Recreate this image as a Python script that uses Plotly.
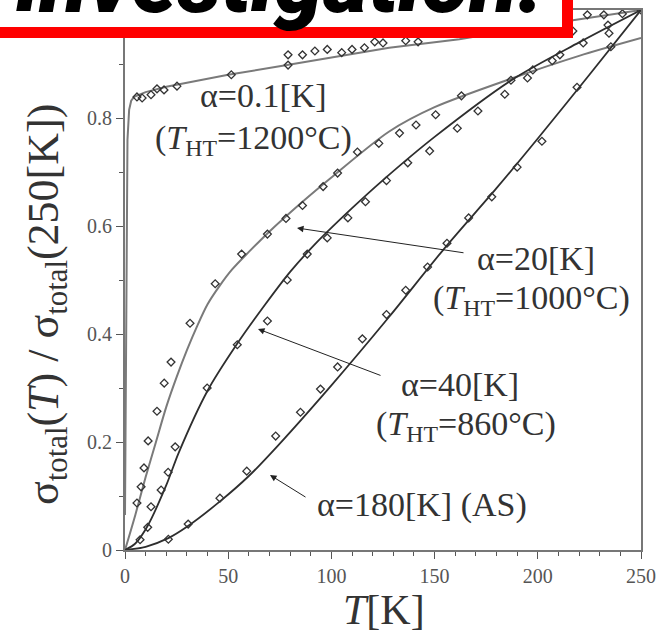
import plotly.graph_objects as go

# ---------------- data ----------------
fit01_T = [0, 0.3, 0.7, 1.2, 2.0, 3.0, 4.4, 10, 20, 50, 80, 128, 162, 217, 250]
fit01_y = [0.065, 0.30, 0.62, 0.76, 0.815, 0.832, 0.839, 0.848, 0.858, 0.880, 0.899, 0.930, 0.946, 0.981, 1.0]

fit20_T = [0, 5, 10, 15, 20, 25, 30, 35, 40, 46, 52, 60, 70, 86, 100, 128, 150, 188, 220, 250]
fit20_y = [0, 0.065, 0.135, 0.20, 0.265, 0.32, 0.37, 0.415, 0.455, 0.49, 0.52, 0.552, 0.59, 0.645, 0.69, 0.775, 0.82, 0.874, 0.915, 0.948]

fit40_T = [0, 5, 11, 20, 26, 40, 54, 68, 80, 93, 110, 125, 150, 188, 220, 250]
fit40_y = [0, 0.012, 0.045, 0.12, 0.18, 0.295, 0.38, 0.455, 0.515, 0.57, 0.633, 0.685, 0.765, 0.872, 0.94, 1.0]

fit180_T = [0, 10, 21, 30, 46, 60, 74, 100, 128, 154, 180, 200, 225, 250]
fit180_y = [0, 0.006, 0.022, 0.043, 0.09, 0.137, 0.193, 0.305, 0.432, 0.555, 0.67, 0.762, 0.88, 1.0]

pts01_T = [5.8, 8.3, 12.6, 15.5, 18.9, 25.2, 51.5, 79, 79, 86, 92, 98, 105, 110, 116, 121, 125, 136, 142, 224, 232, 241, 250]
pts01_y = [0.839, 0.837, 0.843, 0.854, 0.852, 0.859, 0.880, 0.898, 0.917, 0.917, 0.924, 0.927, 0.921, 0.927, 0.930, 0.941, 0.939, 0.943, 0.941, 0.991, 0.991, 0.993, 1.0]

pts20_T = [5.8, 7.8, 9.2, 11.2, 15.5, 19, 22.3, 31.5, 43.7, 56.5, 69, 78, 86, 96, 103, 112.6, 123, 133, 141, 150.5, 163, 187, 197.6, 210.7, 217, 234]
pts20_y = [0.087, 0.117, 0.152, 0.202, 0.257, 0.309, 0.348, 0.420, 0.493, 0.548, 0.585, 0.614, 0.638, 0.673, 0.698, 0.737, 0.753, 0.772, 0.787, 0.806, 0.841, 0.870, 0.889, 0.917, 0.961, 0.972]

pts40_T = [7.3, 11, 12.6, 17.5, 20.9, 24.3, 39.8, 54.4, 69, 78.6, 88.3, 98, 108, 116.5, 126.7, 137, 147.6, 161, 171, 184, 195, 207, 222, 234.5]
pts40_y = [0.019, 0.042, 0.080, 0.111, 0.144, 0.191, 0.300, 0.380, 0.424, 0.500, 0.548, 0.578, 0.615, 0.645, 0.684, 0.717, 0.739, 0.781, 0.813, 0.844, 0.874, 0.906, 0.939, 0.957]

pts180_T = [21, 30.6, 46, 59, 73, 85, 94.7, 103, 115, 126.7, 136, 146.6, 156, 166.5, 177.7, 190, 202, 219, 235.4]
pts180_y = [0.020, 0.048, 0.096, 0.146, 0.211, 0.255, 0.298, 0.339, 0.391, 0.436, 0.481, 0.524, 0.568, 0.615, 0.654, 0.709, 0.757, 0.857, 0.932]

x_ticks = [0, 50, 100, 150, 200, 250]
y_ticks = [0, 0.2, 0.4, 0.6, 0.8]
y_ticktext = ["0", "0.2", "0.4", "0.6", "0.8"]

# ---------------- layout geometry (screen pixels) ----------------
W, H = 666, 635
ML, MR, MT, MB = 125, 25, 10, 85
PW, PH = W - ML - MR, H - MT - MB
XR, YR = [0, 250], [0, 1.0]

def px2x(px):
    return XR[0] + (px - ML) / PW * (XR[1] - XR[0])

def py2y(py):
    return YR[0] + (H - MB - py) / PH * (YR[1] - YR[0])

def px2p(px):
    return (px - ML) / PW

def py2p(py):
    return (H - MB - py) / PH

SERIF = "Liberation Serif"
LIGHT = "#7a7a7a"
DARK = "#2e2e2e"

fig = go.Figure()

def add_fit(T, y, color, width, spline=True):
    line = dict(color=color, width=width)
    if spline:
        line.update(shape="spline", smoothing=0.8)
    fig.add_trace(go.Scatter(x=T, y=y, mode="lines", line=line, hoverinfo="skip", showlegend=False))

def add_pts(T, y):
    fig.add_trace(go.Scatter(x=T, y=y, mode="markers",
                             marker=dict(symbol="diamond-open", size=6, color="#333333", line=dict(width=1.3)),
                             showlegend=False))

add_fit(fit01_T, fit01_y, LIGHT, 2, spline=False)
add_fit(fit20_T, fit20_y, LIGHT, 2)
add_fit(fit40_T, fit40_y, DARK, 1.8)
add_fit(fit180_T, fit180_y, DARK, 1.8)
add_pts(pts01_T, pts01_y)
add_pts(pts20_T, pts20_y)
add_pts(pts40_T, pts40_y)
add_pts(pts180_T, pts180_y)

ann = []

def label(text, cx, cy, size=34):
    ann.append(dict(text=text, x=px2x(cx), y=py2y(cy), xref="x", yref="y", showarrow=False,
                    xanchor="center", yanchor="middle", font=dict(family=SERIF, size=size, color="#333333")))

def arrow(tail, tip):
    ann.append(dict(text="", x=px2x(tip[0]), y=py2y(tip[1]), ax=px2x(tail[0]), ay=py2y(tail[1]),
                    xref="x", yref="y", axref="x", ayref="y", showarrow=True,
                    arrowhead=2, arrowsize=1.3, arrowwidth=1, arrowcolor="#222222"))

label("α=0.1[K]", 263, 95)
label("(<i>T</i><sub>HT</sub>=1200°C)", 253, 140)
label("α=20[K]", 536, 258)
label("(<i>T</i><sub>HT</sub>=1000°C)", 531, 300)
label("α=40[K]", 460, 384)
label("(<i>T</i><sub>HT</sub>=860°C)", 466, 426)
label("α=180[K] (AS)", 422, 505)

arrow((465, 253), (297, 228))
arrow((382, 376), (258, 329))
arrow((307, 498), (270, 475))

ann.append(dict(text="<i>T</i>[K]", x=px2p(384), y=py2p(610), xref="paper", yref="paper", showarrow=False,
                xanchor="center", yanchor="middle", font=dict(family=SERIF, size=42, color="#333333")))
ann.append(dict(text="σ<sub>total</sub>(<i>T</i>) / σ<sub>total</sub>(250[K])", x=px2p(46), y=py2p(305),
                xref="paper", yref="paper", showarrow=False, textangle=-90,
                xanchor="center", yanchor="middle", font=dict(family=SERIF, size=44, color="#333333")))

ann.append(dict(text="investigation.", x=px2p(280), y=py2p(35), xref="paper", yref="paper",
                showarrow=False, xanchor="center", yanchor="bottom",
                font=dict(family="Roboto", size=88, color="#000000", weight=900, style="italic")))

shapes = [
    dict(type="rect", xref="paper", yref="paper", x0=px2p(-5), x1=px2p(573), y0=py2p(38), y1=py2p(-10),
         fillcolor="#ff0000", line=dict(width=0), layer="above"),
    dict(type="rect", xref="paper", yref="paper", x0=px2p(-10), x1=px2p(562), y0=py2p(27), y1=py2p(-10),
         fillcolor="#ffffff", line=dict(width=0), layer="above"),
]

axis_common = dict(showgrid=False, zeroline=False, showline=True, linecolor="#777777", linewidth=2,
                   mirror=True, ticks="outside", ticklen=7, tickwidth=1.2, tickcolor="#555555",
                   tickfont=dict(family=SERIF, size=20, color="#555555"))

fig.update_layout(
    width=W, height=H, margin=dict(l=ML, r=MR, t=MT, b=MB, autoexpand=False),
    paper_bgcolor="white", plot_bgcolor="white",
    xaxis=dict(range=XR, tickvals=x_ticks, ticktext=[str(v) for v in x_ticks],
               minor=dict(dtick=10, ticks="outside", ticklen=4, tickcolor="#555555", showgrid=False),
               **axis_common),
    yaxis=dict(range=YR, tickvals=y_ticks, ticktext=y_ticktext,
               minor=dict(dtick=0.1, ticks="outside", ticklen=4, tickcolor="#555555", showgrid=False),
               **axis_common),
    annotations=ann, shapes=shapes, showlegend=False,
)

fig.write_html("out.html", config={"displayModeBar": False},
               post_script="document.body.style.margin='0';document.body.style.overflow='hidden';")
